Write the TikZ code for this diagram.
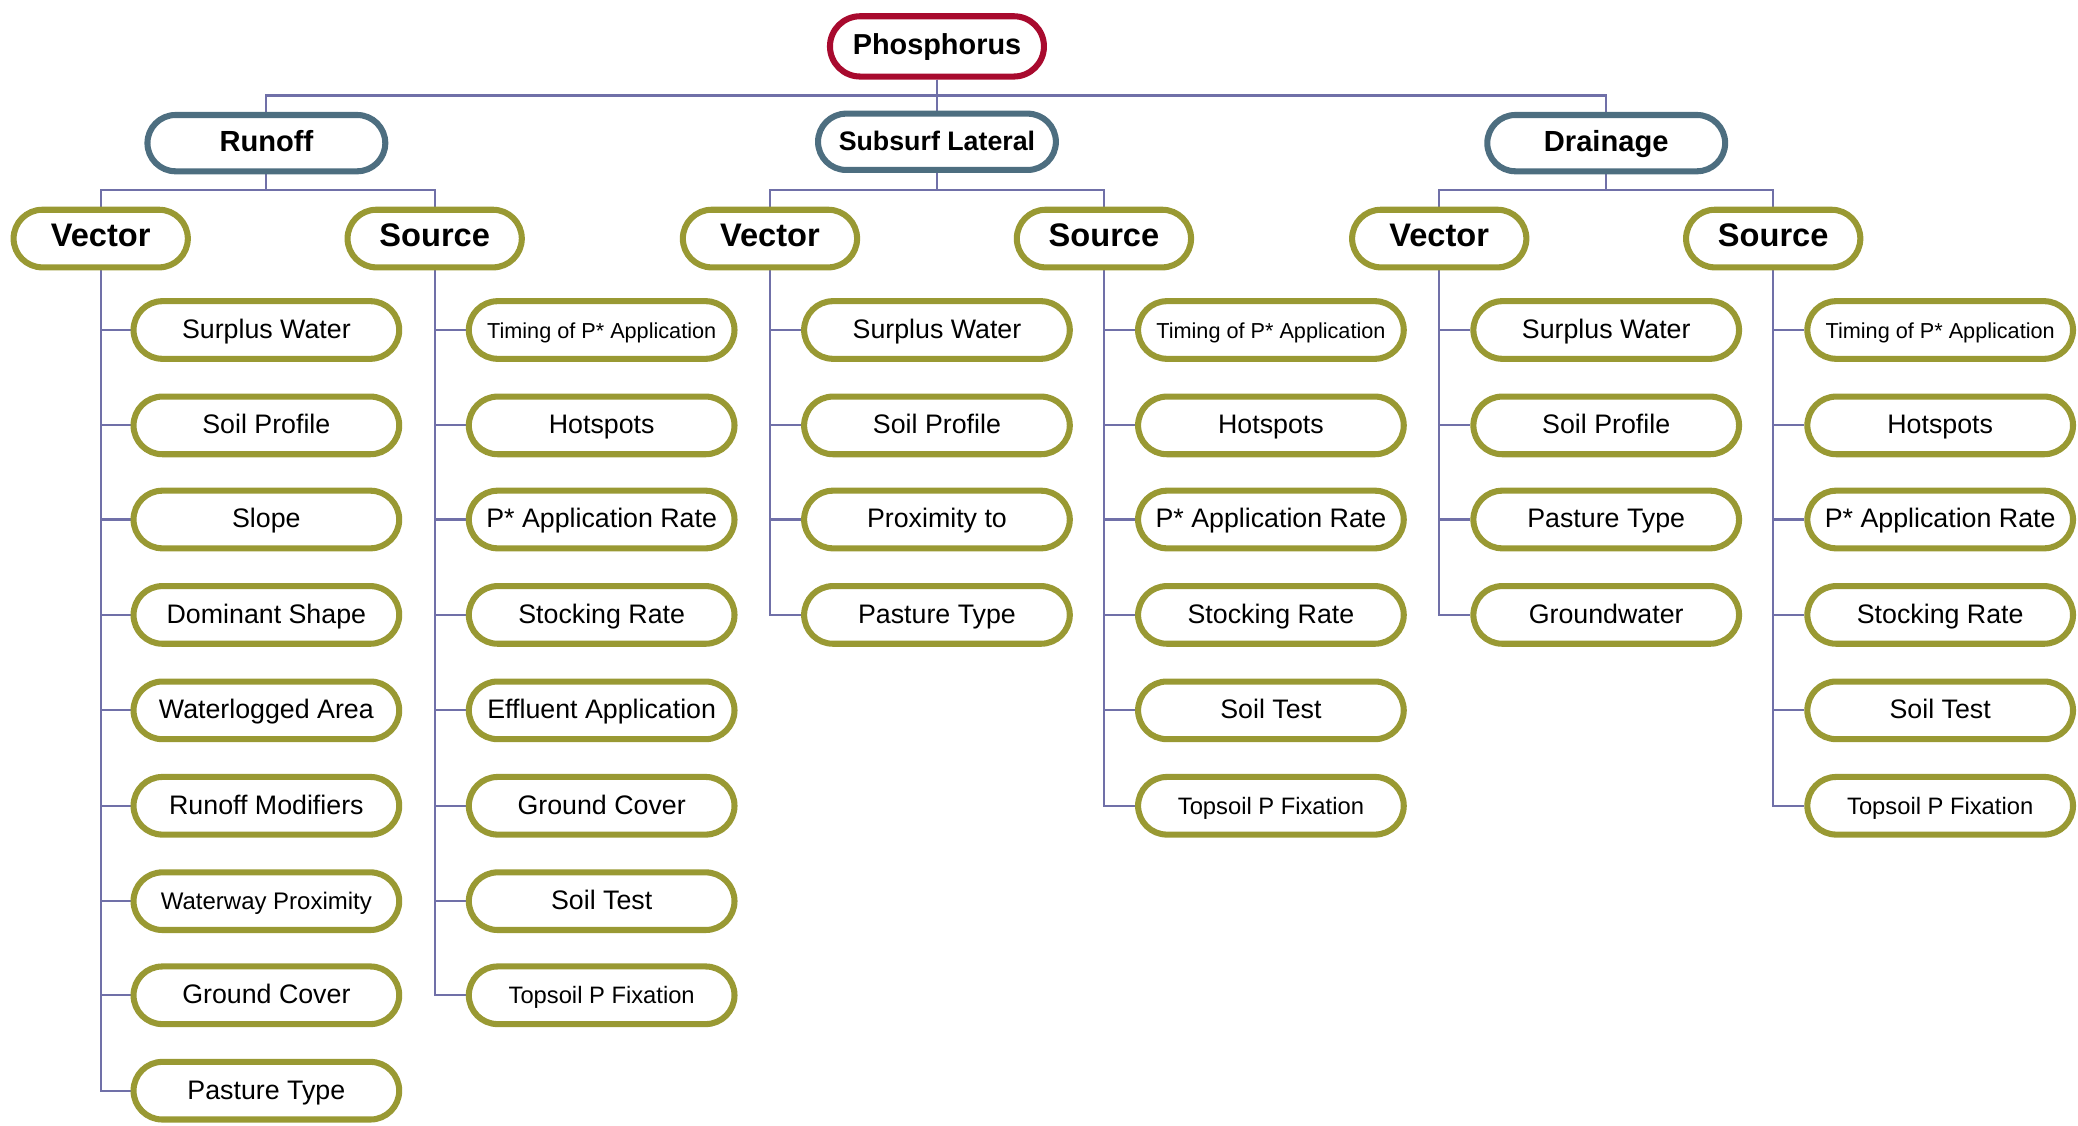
\documentclass[tikz,border=0pt]{standalone}
\usepackage{fontspec}
\setmainfont{Liberation Sans}
\usepackage{tikz}
\usetikzlibrary{shapes.misc,backgrounds}

\definecolor{rootred}{HTML}{A80A2E}
\definecolor{pathblue}{HTML}{4D6E80}
\definecolor{leafolive}{HTML}{999933}
\definecolor{linkpurple}{HTML}{7070A8}

\begin{document}
\begin{tikzpicture}[x=0.02cm, y=-0.02cm,
  rootnode/.style={rounded rectangle, draw=rootred, line width=2.6pt, fill=white, minimum width=3.23cm, minimum height=0.91cm, inner sep=0pt, text height=0.72em, text depth=0pt, font=\fontsize{12.4}{14}\selectfont\bfseries},
  pathnode/.style={rounded rectangle, draw=pathblue, line width=2.6pt, fill=white, minimum width=3.59cm, minimum height=0.85cm, inner sep=0pt, text height=0.72em, text depth=0pt, font=\fontsize{12.5}{14}\selectfont\bfseries},
  groupnode/.style={rounded rectangle, draw=leafolive, line width=2.6pt, fill=white, minimum width=2.63cm, minimum height=0.87cm, inner sep=0pt, text height=0.72em, text depth=0pt, font=\fontsize{14}{16}\selectfont\bfseries},
  leafnode/.style={rounded rectangle, draw=leafolive, line width=2.6pt, fill=white, minimum width=4.01cm, minimum height=0.87cm, inner sep=0pt, text height=0.72em, text depth=0pt, font=\fontsize{11.5}{13}\selectfont},
  small/.style={font=\fontsize{9.3}{11}\selectfont},
  link/.style={draw=linkpurple, line width=0.9pt},]
\useasboundingbox (0,0) rectangle (1568,849);
% nodes
\node[rootnode] (phosphorus) at (707,35) {Phosphorus};
\node[pathnode] (runoff) at (201,108) {Runoff};
\node[pathnode] (subsurf) at (707,107) {\fontsize{11.5}{13}\selectfont Subsurf Lateral};
\node[pathnode] (drainage) at (1212,108) {Drainage};
\node[groupnode] (runoff_vector) at (76,180) {Vector};
\node[groupnode] (runoff_source) at (328,180) {Source};
\node[groupnode] (subsurf_vector) at (581,180) {Vector};
\node[groupnode] (subsurf_source) at (833,180) {Source};
\node[groupnode] (drainage_vector) at (1086,180) {Vector};
\node[groupnode] (drainage_source) at (1338,180) {Source};
% runoff vector
\node[leafnode] (rv_surplus) at (201,249) {Surplus Water};
\node[leafnode] (rv_profile) at (201,321) {Soil Profile};
\node[leafnode] (rv_slope) at (201,392) {Slope};
\node[leafnode] (rv_shape) at (201,464) {Dominant Shape};
\node[leafnode] (rv_waterlogged) at (201,536) {Waterlogged Area};
\node[leafnode] (rv_modifiers) at (201,608) {Runoff Modifiers};
\node[leafnode] (rv_waterway) at (201,680) {\fontsize{10.3}{12}\selectfont Waterway Proximity};
\node[leafnode] (rv_cover) at (201,751) {Ground Cover};
\node[leafnode] (rv_pasture) at (201,823) {Pasture Type};
% runoff source
\node[leafnode, small] (rs_timing) at (454,249) {Timing of P* Application};
\node[leafnode] (rs_hotspots) at (454,321) {Hotspots};
\node[leafnode] (rs_rate) at (454,392) {P* Application Rate};
\node[leafnode] (rs_stocking) at (454,464) {Stocking Rate};
\node[leafnode] (rs_effluent) at (454,536) {Effluent Application};
\node[leafnode] (rs_cover) at (454,608) {Ground Cover};
\node[leafnode] (rs_soiltest) at (454,680) {Soil Test};
\node[leafnode] (rs_fixation) at (454,751) {\fontsize{10.2}{12}\selectfont Topsoil P Fixation};
% subsurf lateral vector
\node[leafnode] (sv_surplus) at (707,249) {Surplus Water};
\node[leafnode] (sv_profile) at (707,321) {Soil Profile};
\node[leafnode] (sv_proximity) at (707,392) {Proximity to};
\node[leafnode] (sv_pasture) at (707,464) {Pasture Type};
% subsurf lateral source
\node[leafnode, small] (ss_timing) at (959,249) {Timing of P* Application};
\node[leafnode] (ss_hotspots) at (959,321) {Hotspots};
\node[leafnode] (ss_rate) at (959,392) {P* Application Rate};
\node[leafnode] (ss_stocking) at (959,464) {Stocking Rate};
\node[leafnode] (ss_soiltest) at (959,536) {Soil Test};
\node[leafnode] (ss_fixation) at (959,608) {\fontsize{10.2}{12}\selectfont Topsoil P Fixation};
% drainage vector
\node[leafnode] (dv_surplus) at (1212,249) {Surplus Water};
\node[leafnode] (dv_profile) at (1212,321) {Soil Profile};
\node[leafnode] (dv_pasture) at (1212,392) {Pasture Type};
\node[leafnode] (dv_groundwater) at (1212,464) {Groundwater};
% drainage source
\node[leafnode, small] (ds_timing) at (1464,249) {Timing of P* Application};
\node[leafnode] (ds_hotspots) at (1464,321) {Hotspots};
\node[leafnode] (ds_rate) at (1464,392) {P* Application Rate};
\node[leafnode] (ds_stocking) at (1464,464) {Stocking Rate};
\node[leafnode] (ds_soiltest) at (1464,536) {Soil Test};
\node[leafnode] (ds_fixation) at (1464,608) {\fontsize{10.2}{12}\selectfont Topsoil P Fixation};
% edges
\begin{scope}[on background layer]
\draw[link] (phosphorus.south) -- ++(0,12) -| (runoff.north);
\draw[link] (phosphorus.south) -- (subsurf.north);
\draw[link] (phosphorus.south) -- ++(0,12) -| (drainage.north);
\draw[link] (runoff.south) -- ++(0,12) -| (runoff_vector.north);
\draw[link] (runoff.south) -- ++(0,12) -| (runoff_source.north);
\draw[link] (subsurf.south) -- ++(0,13) -| (subsurf_vector.north);
\draw[link] (subsurf.south) -- ++(0,13) -| (subsurf_source.north);
\draw[link] (drainage.south) -- ++(0,12) -| (drainage_vector.north);
\draw[link] (drainage.south) -- ++(0,12) -| (drainage_source.north);
\draw[link] (runoff_vector.south) |- (rv_surplus.west);
\draw[link] (runoff_vector.south) |- (rv_profile.west);
\draw[link] (runoff_vector.south) |- (rv_slope.west);
\draw[link] (runoff_vector.south) |- (rv_shape.west);
\draw[link] (runoff_vector.south) |- (rv_waterlogged.west);
\draw[link] (runoff_vector.south) |- (rv_modifiers.west);
\draw[link] (runoff_vector.south) |- (rv_waterway.west);
\draw[link] (runoff_vector.south) |- (rv_cover.west);
\draw[link] (runoff_vector.south) |- (rv_pasture.west);
\draw[link] (runoff_source.south) |- (rs_timing.west);
\draw[link] (runoff_source.south) |- (rs_hotspots.west);
\draw[link] (runoff_source.south) |- (rs_rate.west);
\draw[link] (runoff_source.south) |- (rs_stocking.west);
\draw[link] (runoff_source.south) |- (rs_effluent.west);
\draw[link] (runoff_source.south) |- (rs_cover.west);
\draw[link] (runoff_source.south) |- (rs_soiltest.west);
\draw[link] (runoff_source.south) |- (rs_fixation.west);
\draw[link] (subsurf_vector.south) |- (sv_surplus.west);
\draw[link] (subsurf_vector.south) |- (sv_profile.west);
\draw[link] (subsurf_vector.south) |- (sv_proximity.west);
\draw[link] (subsurf_vector.south) |- (sv_pasture.west);
\draw[link] (subsurf_source.south) |- (ss_timing.west);
\draw[link] (subsurf_source.south) |- (ss_hotspots.west);
\draw[link] (subsurf_source.south) |- (ss_rate.west);
\draw[link] (subsurf_source.south) |- (ss_stocking.west);
\draw[link] (subsurf_source.south) |- (ss_soiltest.west);
\draw[link] (subsurf_source.south) |- (ss_fixation.west);
\draw[link] (drainage_vector.south) |- (dv_surplus.west);
\draw[link] (drainage_vector.south) |- (dv_profile.west);
\draw[link] (drainage_vector.south) |- (dv_pasture.west);
\draw[link] (drainage_vector.south) |- (dv_groundwater.west);
\draw[link] (drainage_source.south) |- (ds_timing.west);
\draw[link] (drainage_source.south) |- (ds_hotspots.west);
\draw[link] (drainage_source.south) |- (ds_rate.west);
\draw[link] (drainage_source.south) |- (ds_stocking.west);
\draw[link] (drainage_source.south) |- (ds_soiltest.west);
\draw[link] (drainage_source.south) |- (ds_fixation.west);
\end{scope}
\end{tikzpicture}
\end{document}
